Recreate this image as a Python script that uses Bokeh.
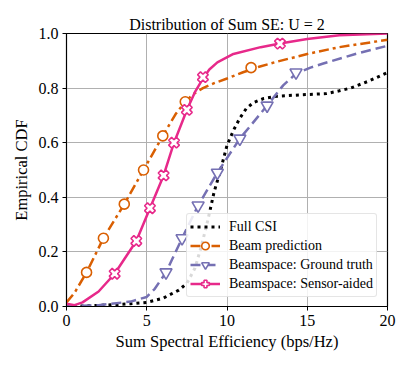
import math
from bokeh.plotting import figure
from bokeh.models import Legend, LegendItem, FixedTicker, NumeralTickFormatter, Range1d
from bokeh.embed import file_html
from bokeh.resources import INLINE

# ---- data ----
full_x = [0, 2, 4, 5, 6, 7, 7.5, 8.0, 8.4, 8.8, 9.2, 9.6, 10.0, 10.4, 10.8, 11.2, 11.65, 12.3, 13.1, 14.5, 16.2, 17.0, 17.7, 18.8, 20]
full_y = [0, 0.004, 0.01, 0.015, 0.03, 0.06, 0.085, 0.14, 0.22, 0.315, 0.42, 0.5, 0.59, 0.645, 0.69, 0.725, 0.747, 0.762, 0.77, 0.775, 0.78, 0.79, 0.80, 0.825, 0.857]

beam_x = [0, 0.5, 1.25, 2.3, 3.6, 4.8, 6.0, 6.8, 7.4, 7.9, 8.5, 9.2, 10, 11, 12, 13, 14, 15, 17, 20]
beam_y = [0.015, 0.05, 0.125, 0.25, 0.375, 0.5, 0.625, 0.705, 0.75, 0.778, 0.80, 0.818, 0.835, 0.858, 0.878, 0.895, 0.91, 0.925, 0.95, 0.977]
beam_mx = [1.25, 2.3, 3.6, 4.8, 6.0, 7.4, 11.5]
beam_my = [0.125, 0.25, 0.375, 0.5, 0.625, 0.75, 0.875]

gt_x = [0, 2, 4, 5, 5.5, 6.2, 7.2, 8.2, 9.4, 10.8, 12.5, 13.5, 14.3, 15.2, 16, 18, 20]
gt_y = [0, 0.005, 0.018, 0.035, 0.065, 0.125, 0.25, 0.37, 0.49, 0.615, 0.736, 0.81, 0.853, 0.875, 0.89, 0.925, 0.955]
gt_mx = [6.2, 7.2, 8.2, 9.4, 10.8, 12.5, 14.3]
gt_my = [0.125, 0.25, 0.37, 0.49, 0.615, 0.736, 0.857]

sa_x = [0, 0.5, 1.0, 2.0, 3.0, 4.35, 5.2, 6.05, 6.7, 7.5, 8.0, 8.5, 8.9, 9.4, 10.4, 12.1, 13.3, 15, 17, 20]
sa_y = [0.01, 0.005, 0.015, 0.055, 0.12, 0.24, 0.36, 0.48, 0.60, 0.72, 0.785, 0.835, 0.868, 0.894, 0.925, 0.95, 0.963, 0.98, 0.994, 1.0]
sa_mx = [3.0, 4.35, 5.2, 6.05, 6.7, 7.5, 8.5, 13.3]
sa_my = [0.12, 0.24, 0.36, 0.48, 0.60, 0.72, 0.84, 0.963]

x_ticks = [0, 5, 10, 15, 20]
y_ticks = [0.0, 0.2, 0.4, 0.6, 0.8, 1.0]

labels = ["Full CSI", "Beam prediction", "Beamspace: Ground truth", "Beamspace: Sensor-aided"]

ORANGE = "#d95f02"
PURPLE = "#7570b3"
PINK = "#e7298a"
FONT = "Liberation Serif"

p = figure(width=399, height=359, output_backend="svg", toolbar_location=None,
           x_range=Range1d(0, 20), y_range=Range1d(0, 1),
           min_border_left=66, min_border_right=12, min_border_top=33, min_border_bottom=53)

p.title.text = "Distribution of Sum SE: U = 2"
p.title.text_font = FONT
p.title.text_font_size = "16px"
p.title.text_font_style = "normal"
p.title.align = "center"
p.title.text_color = "black"
p.title.standoff = 2

p.outline_line_color = "black"
p.outline_line_width = 1.2
p.outline_line_alpha = 1

for ax in (p.xaxis[0], p.yaxis[0]):
    ax.axis_line_color = "black"
    ax.major_tick_line_color = "black"
    ax.major_tick_out = 4
    ax.major_tick_in = 0
    ax.minor_tick_line_color = None
    ax.major_label_text_font = FONT
    ax.major_label_text_font_size = "16px"
    ax.major_label_text_color = "black"
    ax.axis_label_text_font = FONT
    ax.axis_label_text_font_size = "16.5px"
    ax.axis_label_text_font_style = "normal"
    ax.axis_label_text_color = "black"

p.xaxis.ticker = FixedTicker(ticks=x_ticks)
p.yaxis.ticker = FixedTicker(ticks=y_ticks)
p.yaxis.formatter = NumeralTickFormatter(format="0.0")
p.xaxis.axis_label = "Sum Spectral Efficiency (bps/Hz)"
p.yaxis.axis_label = "Empirical CDF"
p.xaxis.axis_label_standoff = 3
p.yaxis.axis_label_standoff = 5
p.xaxis.major_label_standoff = 4
p.yaxis.major_label_standoff = 4

p.grid.grid_line_color = "#b0b0b0"
p.grid.grid_line_width = 1

r_full = p.line(full_x, full_y, line_color="black", line_width=3, line_dash="3 4")

r_beam = p.line(beam_x, beam_y, line_color=ORANGE, line_width=2.5, line_dash="10 4 3 4")
m_beam = p.scatter(beam_mx, beam_my, marker="circle", size=10, fill_color="white",
                   line_color=ORANGE, line_width=1.6)

r_gt = p.line(gt_x, gt_y, line_color=PURPLE, line_width=2.5, line_dash="10 5")
m_gt = p.scatter(gt_mx, gt_my, marker="inverted_triangle", size=12, fill_color="white",
                 line_color=PURPLE, line_width=1.6)

r_sa = p.line(sa_x, sa_y, line_color=PINK, line_width=2.5)
m_sa = p.scatter(sa_mx, sa_my, marker="plus", size=11, angle=math.pi / 4, fill_color="white",
                 line_color=PINK, line_width=1.6)

legend = Legend(items=[
    LegendItem(label=labels[0], renderers=[r_full]),
    LegendItem(label=labels[1], renderers=[r_beam, m_beam]),
    LegendItem(label=labels[2], renderers=[r_gt, m_gt]),
    LegendItem(label=labels[3], renderers=[r_sa, m_sa]),
], location=(120, 9))
legend.label_text_font = FONT
legend.label_text_font_size = "14px"
legend.label_text_color = "black"
legend.glyph_width = 30
legend.glyph_height = 19
legend.label_height = 19
legend.label_standoff = 9
legend.spacing = 0
legend.padding = 3
legend.margin = 0
legend.border_line_color = "#cccccc"
legend.border_line_width = 1
legend.border_radius = 3
legend.background_fill_alpha = 0.85
p.add_layout(legend, "center")

open("out.html", "w").write(file_html(p, INLINE))
